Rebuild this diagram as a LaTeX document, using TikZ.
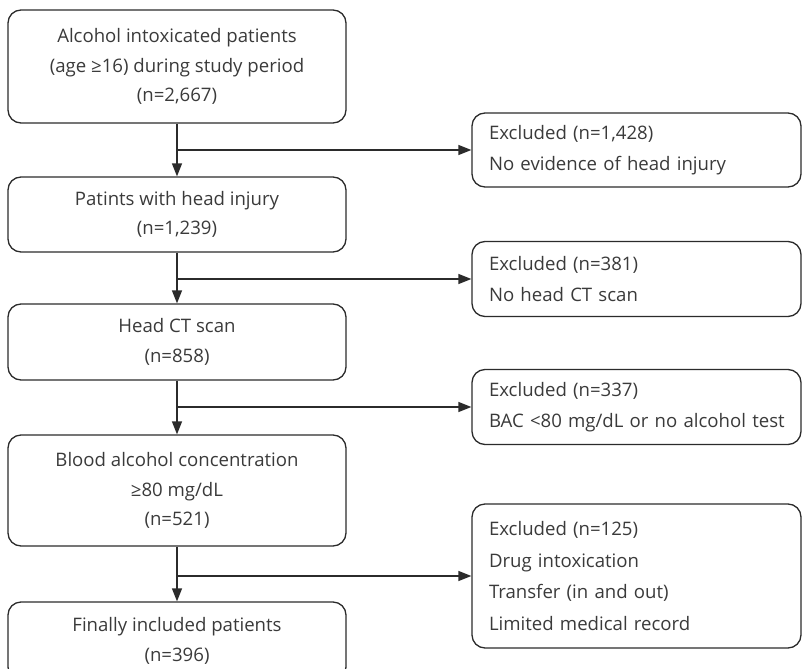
\documentclass[tikz,border=0pt]{standalone}
\usepackage{fontspec}
\setmainfont{Open Sans}
\usetikzlibrary{arrows.meta,positioning}
\definecolor{ln}{HTML}{2B2B2B}
\definecolor{tx}{HTML}{3A3A3A}
\tikzset{
  mainbox/.style={draw=ln, line width=1.3pt, rounded corners=13pt, minimum width=338pt,
    align=center, text=tx, inner sep=0pt, font=\fontsize{18.6}{29.5}\selectfont},
  exbox/.style={draw=ln, line width=1.3pt, rounded corners=13pt, minimum width=329pt, text width=325pt,
    align=left, text=tx, inner xsep=0pt, inner ysep=0pt, font=\fontsize{18.6}{31.5}\selectfont},
  flow/.style={draw=ln, line width=1.3pt, -{Triangle[length=13pt,width=10pt]}}
}
\newcommand{\pad}{\hspace*{15pt}}
\begin{document}
\begin{tikzpicture}[x=1pt,y=-1pt]
\useasboundingbox (0,0) rectangle (803,669);
\clip (0,0) rectangle (803,669);
\node[mainbox, minimum height=113pt] (b1) at (177,66.5) {Alcohol intoxicated patients\\(age ≥16) during study period\\(n=2,667)};
\node[mainbox, minimum height=75pt] (b2) at (177,214.5) {Patints with head injury\\(n=1,239)};
\node[mainbox, minimum height=76pt] (b3) at (177,342) {Head CT scan\\(n=858)};
\node[mainbox, minimum height=111pt] (b4) at (177,490.5) {Blood alcohol concentration\\≥80 mg/dL\\(n=521)};
\node[mainbox, minimum height=78pt] (b5) at (177,641) {Finally included patients\\(n=396)};
\node[exbox, minimum height=74pt] (e1) at (636.5,150) {\pad Excluded (n=1,428)\\\pad No evidence of head injury};
\node[exbox, minimum height=75pt] (e2) at (636.5,279) {\pad Excluded (n=381)\\\pad No head CT scan};
\node[exbox, minimum height=75pt] (e3) at (636.5,407) {\pad Excluded (n=337)\\\pad BAC <80 mg/dL or no alcohol test};
\node[exbox, minimum height=144pt] (e4) at (636.5,576) {\pad Excluded (n=125)\\\pad Drug intoxication\\\pad Transfer (in and out)\\\pad Limited medical record};
\coordinate (j1) at (b1.south |- e1.west);
\coordinate (j2) at (b2.south |- e2.west);
\coordinate (j3) at (b3.south |- e3.west);
\coordinate (j4) at (b4.south |- e4.west);
\draw[flow] (b1.south) -- (b2.north);
\draw[flow] (b2.south) -- (b3.north);
\draw[flow] (b3.south) -- (b4.north);
\draw[flow] (b4.south) -- (b5.north);
\draw[flow] (j1) -- (e1.west);
\draw[flow] (j2) -- (e2.west);
\draw[flow] (j3) -- (e3.west);
\draw[flow] (j4) -- (e4.west);
\end{tikzpicture}
\end{document}
